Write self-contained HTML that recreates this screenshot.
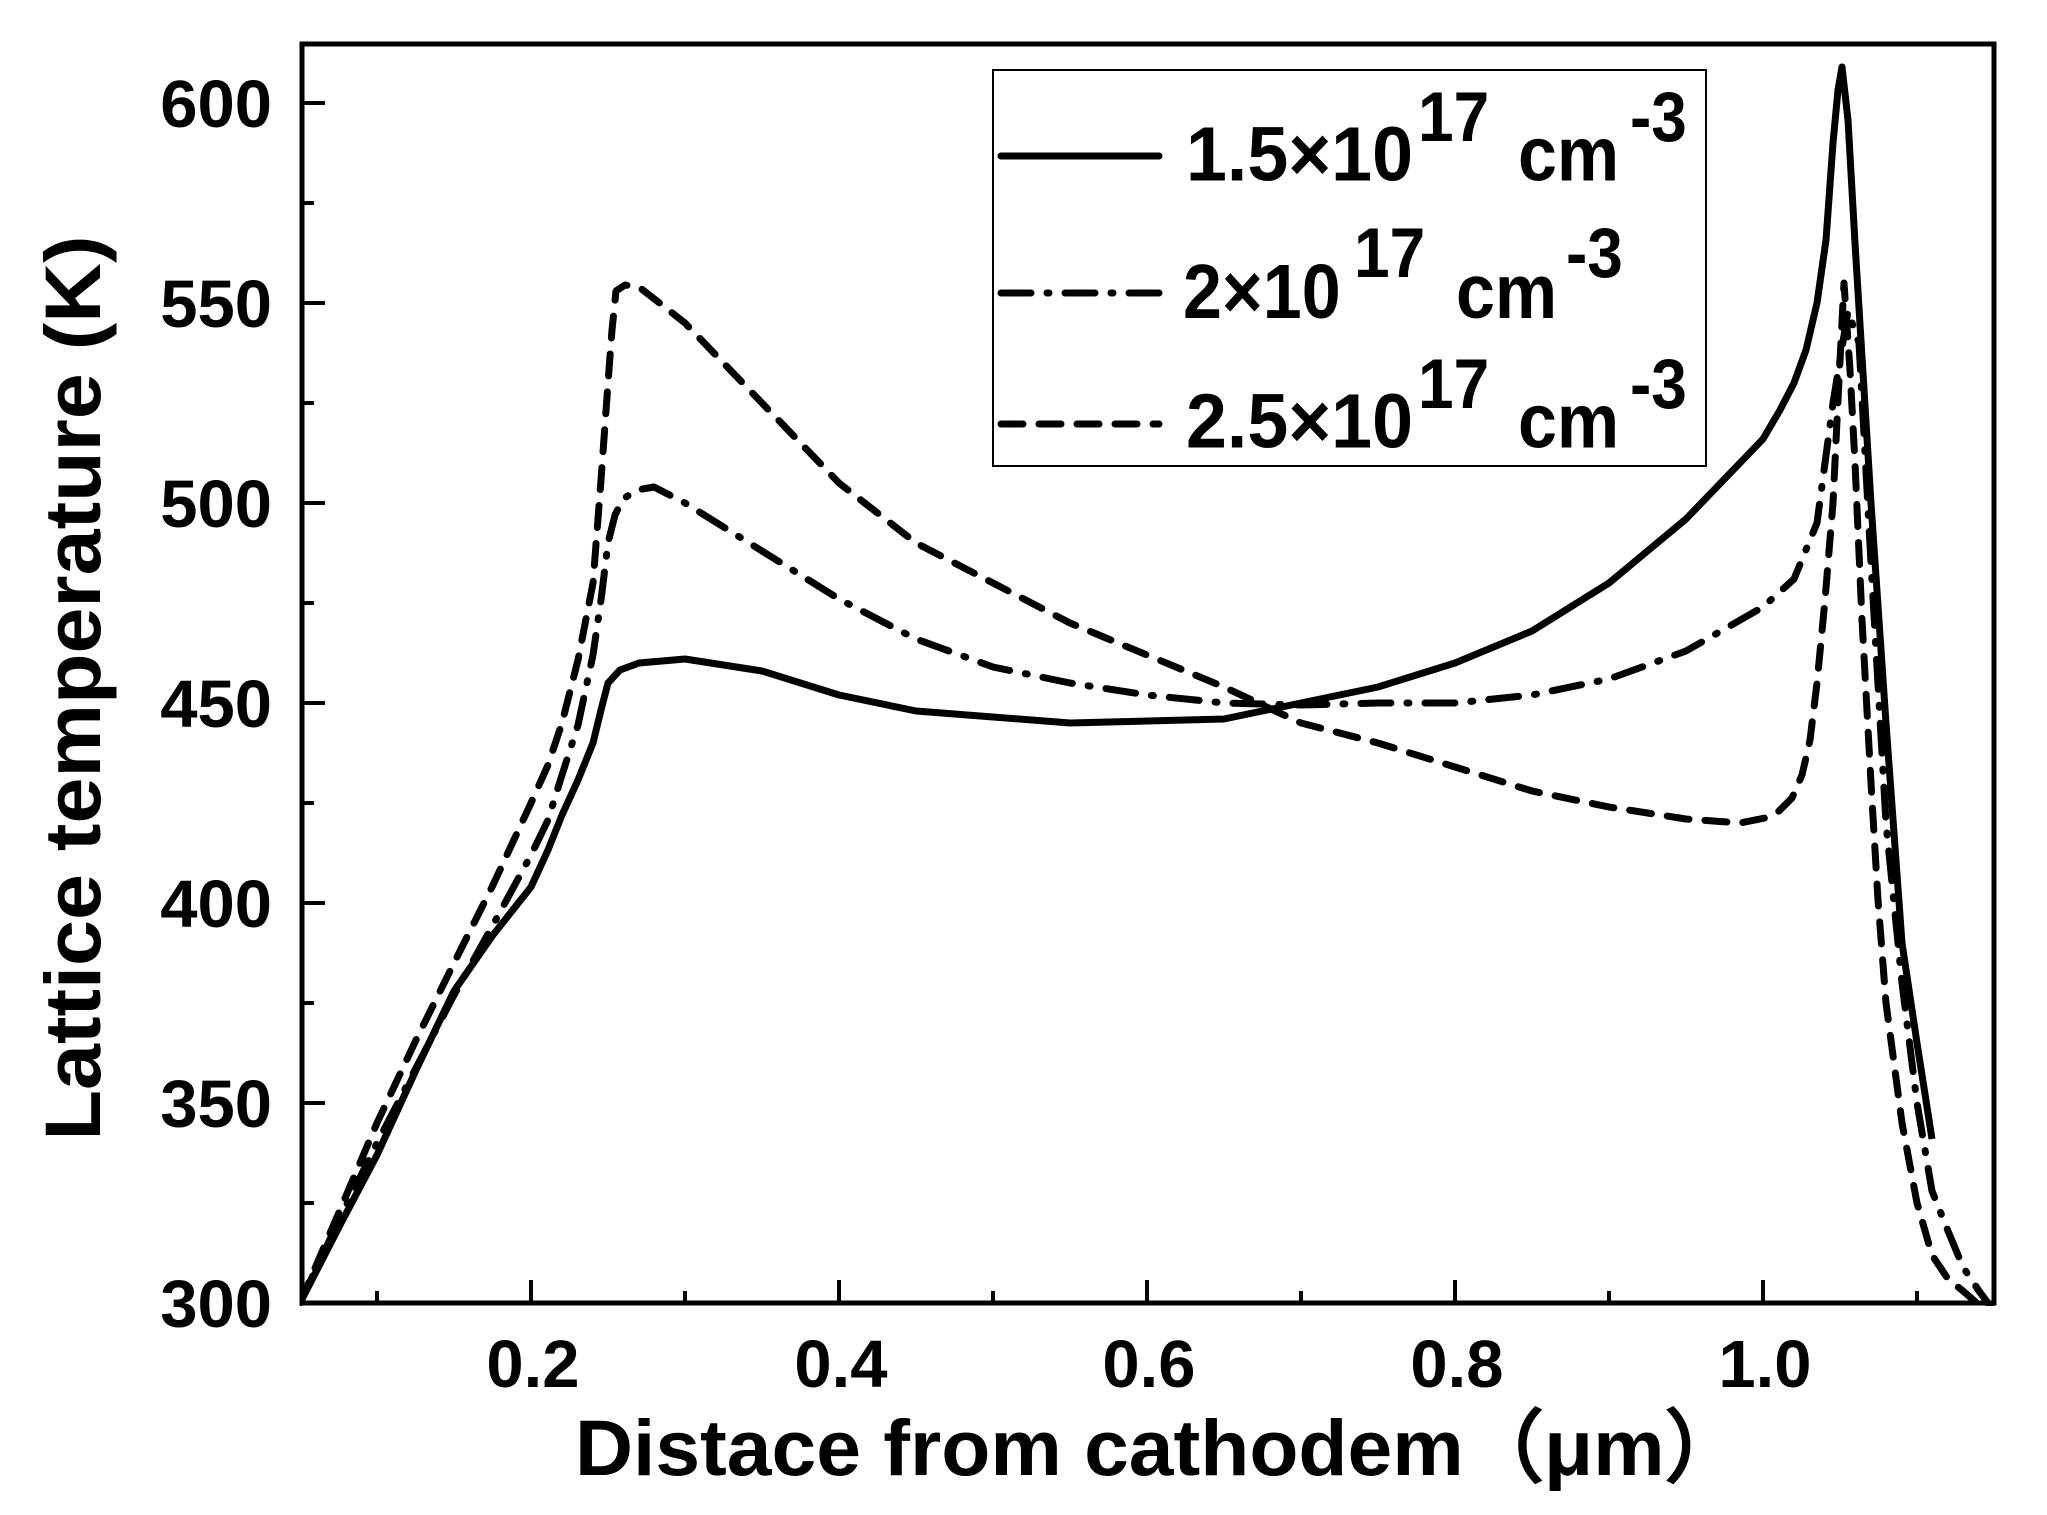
<!DOCTYPE html>
<html><head><meta charset="utf-8"><style>
html,body{margin:0;padding:0;background:#fff;}
svg{display:block;}
text{font-family:"Liberation Sans",Arial,sans-serif;font-weight:bold;fill:#000;}
</style></head><body>
<svg width="2047" height="1515" viewBox="0 0 2047 1515" xmlns="http://www.w3.org/2000/svg">
<defs><clipPath id="c"><rect x="300" y="44" width="1694" height="1262"/></clipPath></defs>
<g clip-path="url(#c)" fill="none" stroke="#000" stroke-width="7" stroke-linejoin="round">
<polyline points="300,1303 340,1225 377,1155 416,1070 454,991 493,935 531,887 548,850 562,815 578,780 593,743 601,710 608,683 620,670 639,663 685,659 762,671 839,695 916,711 1070,723 1224,719 1301,703 1378,687 1455,663 1532,631 1609,583 1686,519 1763,439 1780,410 1794,383 1806,350 1817,303 1826,240 1833,143 1838,90 1842,67 1848,120 1855,243 1871,503 1886,723 1902,943 1917,1043 1932,1139"/>
<polyline stroke-dasharray="30 16 2 16" stroke-linecap="round" points="300,1303 340,1218 377,1143 416,1068 454,995 493,925 531,855 548,820 562,775 578,725 593,655 601,600 608,543 615,515 623,499 637,490 654,487 685,503 762,551 839,599 916,639 993,667 1070,683 1147,695 1224,703 1301,705 1378,703 1455,703 1532,695 1609,679 1686,651 1763,607 1794,579 1817,523 1833,403 1848,311 1859,343 1871,563 1886,823 1902,983 1917,1103 1932,1191 1948,1231 1963,1267 1979,1291 1994,1311"/>
<polyline stroke-dasharray="22 16" stroke-linecap="round" points="300,1303 340,1210 377,1123 416,1040 454,963 493,885 531,803 548,765 562,723 578,660 593,583 601,480 608,383 612,330 616,291 625,285 639,287 685,323 762,403 839,483 916,543 993,583 1070,623 1147,655 1224,687 1301,723 1378,743 1455,767 1532,791 1609,807 1686,819 1740,823 1765,818 1779,811 1792,798 1802,775 1810,740 1817,683 1825,600 1833,503 1839,380 1844,283 1850,370 1855,463 1862,620 1871,783 1878,900 1886,1003 1902,1123 1917,1203 1932,1255 1948,1279 1963,1291 1986,1311"/>
</g>
<rect x="302" y="44" width="1692" height="1259" fill="none" stroke="#000" stroke-width="5"/>
<g stroke="#000" stroke-width="4">
<line x1="531" y1="1303" x2="531" y2="1280"/><line x1="839" y1="1303" x2="839" y2="1280"/><line x1="1147" y1="1303" x2="1147" y2="1280"/><line x1="1455" y1="1303" x2="1455" y2="1280"/><line x1="1763" y1="1303" x2="1763" y2="1280"/>
<line x1="377" y1="1303" x2="377" y2="1291"/><line x1="685" y1="1303" x2="685" y2="1291"/><line x1="993" y1="1303" x2="993" y2="1291"/><line x1="1301" y1="1303" x2="1301" y2="1291"/><line x1="1609" y1="1303" x2="1609" y2="1291"/><line x1="1917" y1="1303" x2="1917" y2="1291"/>
<line x1="302" y1="1103" x2="325" y2="1103"/><line x1="302" y1="903" x2="325" y2="903"/><line x1="302" y1="703" x2="325" y2="703"/><line x1="302" y1="503" x2="325" y2="503"/><line x1="302" y1="303" x2="325" y2="303"/><line x1="302" y1="103" x2="325" y2="103"/>
<line x1="302" y1="1203" x2="314" y2="1203"/><line x1="302" y1="1003" x2="314" y2="1003"/><line x1="302" y1="803" x2="314" y2="803"/><line x1="302" y1="603" x2="314" y2="603"/><line x1="302" y1="403" x2="314" y2="403"/><line x1="302" y1="203" x2="314" y2="203"/>
</g>
<g font-size="67" text-anchor="end">
<text x="272" y="127">600</text><text x="272" y="327">550</text><text x="272" y="527">500</text><text x="272" y="727">450</text><text x="272" y="927">400</text><text x="272" y="1127">350</text><text x="272" y="1327">300</text>
</g>
<g font-size="67" text-anchor="middle">
<text x="533" y="1387">0.2</text><text x="841" y="1387">0.4</text><text x="1149" y="1387">0.6</text><text x="1457" y="1387">0.8</text><text x="1765" y="1387">1.0</text>
</g>
<text x="575" y="1475" font-size="79" textLength="1170" lengthAdjust="spacingAndGlyphs">Distace from cathodem（μm）</text>
<text transform="translate(100,688) rotate(-90)" font-size="79" text-anchor="middle" textLength="905" lengthAdjust="spacingAndGlyphs">Lattice temperature (K)</text>
<rect x="993" y="70" width="713" height="396" fill="#fff" stroke="#000" stroke-width="2"/>
<g stroke="#000" stroke-width="7" stroke-linecap="round">
<line x1="1001" y1="156" x2="1159" y2="156"/>
<line x1="1001" y1="293" x2="1159" y2="293" stroke-dasharray="30 16 2 16"/>
<line x1="1001" y1="424" x2="1159" y2="424" stroke-dasharray="22 16"/>
</g>
<g font-size="70" transform="scale(1,1.1)">
<text x="1186" y="164" textLength="227" lengthAdjust="spacingAndGlyphs">1.5×10</text><text x="1418" y="128" font-size="64">17</text><text x="1518" y="164">cm</text><text x="1630" y="128" font-size="64">-3</text>
<text x="1183" y="289">2×10</text><text x="1354" y="252" font-size="64">17</text><text x="1456" y="289">cm</text><text x="1566" y="252" font-size="64">-3</text>
<text x="1186" y="407" textLength="227" lengthAdjust="spacingAndGlyphs">2.5×10</text><text x="1418" y="371" font-size="64">17</text><text x="1518" y="407">cm</text><text x="1630" y="371" font-size="64">-3</text>
</g>
</svg>
</body></html>
